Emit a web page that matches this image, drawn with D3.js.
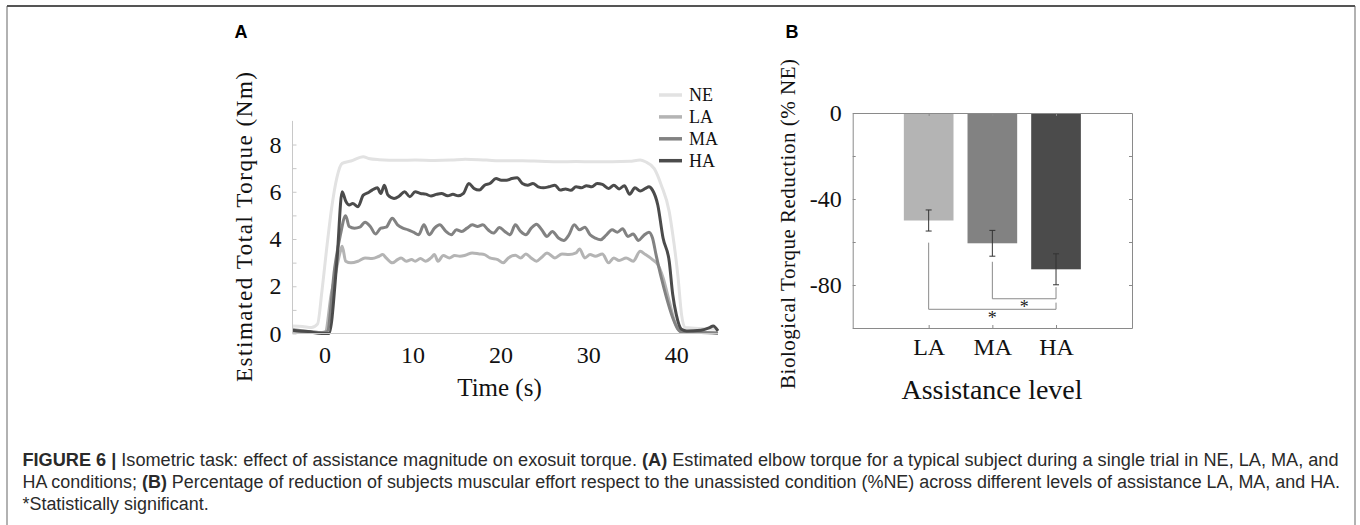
<!DOCTYPE html>
<html>
<head>
<meta charset="utf-8">
<script src="https://cdn.jsdelivr.net/npm/d3@7"></script>
<style>
  body { margin: 0; background: #fff; }
  svg { display: block; }
</style>
</head>
<body>
<svg id="fig" width="1360" height="525"></svg>
<script>
// ---- data ----
// panel A: estimated total torque (Nm) vs time (s), one [t, v] list per condition
const torqueNE = [[-3.65,0.32],[-2.5,0.3],[-1.5,0.25],[-0.8,0.4],[-0.3,1.8],[0.3,3.8],[0.8,5.3],[1.4,6.6],[2.0,7.2],[3.0,7.3],[4.4,7.48],[5.0,7.41],[6.2,7.36],[8.5,7.33],[10.3,7.34],[12.5,7.32],[14.4,7.34],[16.0,7.38],[18.4,7.34],[20.5,7.31],[22.5,7.31],[24.5,7.29],[26.6,7.27],[28.6,7.28],[30.6,7.27],[32.7,7.27],[34.7,7.29],[35.9,7.34],[36.5,7.27],[37.5,6.98],[38.3,6.28],[39.2,5.16],[39.6,4.2],[40.2,2.4],[40.6,0.81],[41.0,0.25],[44.75,0.18]];

const torqueLA = [[-3.65,0.18],[-1.9,0.08],[-0.3,0.04],[0.1,0.08],[0.75,1.65],[1.15,2.36],[1.8,3.48],[2.0,3.69],[2.4,3.06],[3.0,2.99],[3.8,3.06],[4.6,3.2],[5.4,3.17],[6.2,3.27],[6.6,3.34],[7.0,3.2],[7.7,2.99],[8.3,3.13],[8.7,3.2],[9.3,3.06],[9.9,3.13],[10.3,3.06],[10.9,3.17],[11.5,3.06],[12.1,3.2],[12.5,3.34],[12.9,3.06],[13.5,3.3],[14.2,3.2],[14.8,3.3],[15.4,3.27],[16.0,3.31],[16.8,3.41],[17.6,3.37],[18.2,3.34],[18.8,3.2],[19.7,3.13],[20.3,2.99],[20.9,3.2],[21.7,3.31],[22.3,3.2],[22.9,3.37],[23.5,3.2],[24.1,3.06],[24.7,3.23],[25.3,3.41],[26.2,3.2],[27.0,3.37],[27.8,3.34],[28.6,3.41],[29.0,3.58],[29.6,3.2],[30.2,3.34],[30.8,3.27],[31.6,3.37],[32.3,2.99],[32.9,3.2],[33.5,3.09],[34.3,3.2],[35.1,3.06],[35.9,3.48],[36.5,3.34],[37.3,3.13],[37.9,2.92],[38.5,2.36],[39.2,1.37],[39.8,0.53],[40.4,0.11],[41.2,0.04],[44.75,0.04]];

const torqueMA = [[-3.65,0.11],[-1.9,0.08],[-0.3,0.04],[0.3,0.08],[1.15,2.78],[1.8,4.18],[2.4,4.99],[2.8,4.53],[3.4,4.46],[4.0,4.5],[4.6,4.71],[5.2,4.53],[5.8,4.21],[6.4,4.46],[7.0,4.5],[7.7,4.88],[8.3,4.6],[8.9,4.46],[9.5,4.39],[10.1,4.29],[10.7,4.18],[11.3,4.6],[11.9,4.18],[12.5,4.46],[13.1,4.6],[13.8,4.32],[14.4,4.18],[15.0,4.39],[15.6,4.32],[16.2,4.46],[16.8,4.6],[17.4,4.53],[18.0,4.6],[18.6,4.39],[19.2,4.25],[19.9,4.49],[20.5,4.32],[21.1,4.18],[21.7,4.6],[22.3,4.32],[22.9,4.18],[23.5,4.46],[24.1,4.63],[24.7,4.39],[25.3,4.11],[25.9,4.32],[26.6,4.04],[27.2,3.94],[27.8,4.18],[28.4,4.6],[29.0,4.39],[29.6,4.5],[30.2,4.18],[30.8,4.04],[31.4,3.97],[32.0,4.15],[32.7,4.39],[33.3,4.29],[33.9,4.43],[34.5,4.11],[35.1,4.21],[35.7,3.94],[36.3,4.15],[36.9,4.29],[37.3,4.04],[37.7,3.34],[38.3,2.36],[38.9,1.51],[39.6,0.67],[40.2,0.18],[40.8,0.04],[42.8,0.04],[44.75,0.0]];

const torqueHA = [[-3.65,0.14],[-1.9,0.08],[-0.3,0.0],[0.5,0.0],[1.4,3.06],[2.0,6.0],[2.4,5.61],[2.8,5.44],[3.2,5.5],[3.8,5.37],[4.4,5.86],[5.0,5.97],[5.4,6.07],[6.0,6.17],[6.4,5.93],[6.8,6.28],[7.2,5.86],[7.9,5.72],[8.5,5.82],[9.1,6.0],[9.7,5.79],[10.3,6.0],[10.9,5.93],[11.5,5.9],[12.1,5.82],[12.7,5.89],[13.3,5.93],[14.0,5.83],[14.6,5.89],[15.2,5.83],[15.8,5.93],[16.4,6.35],[17.0,6.14],[17.6,6.07],[18.2,6.28],[18.8,6.35],[19.5,6.56],[20.1,6.49],[20.7,6.49],[21.3,6.56],[21.9,6.59],[22.5,6.35],[23.1,6.28],[23.7,6.35],[24.3,6.21],[24.9,6.17],[25.5,6.21],[26.2,6.28],[26.8,6.07],[27.4,6.12],[28.0,6.06],[28.6,6.21],[29.2,6.17],[29.8,6.26],[30.4,6.21],[31.0,6.35],[31.6,6.31],[32.3,6.14],[32.9,6.28],[33.5,6.12],[34.1,6.26],[34.7,5.89],[35.3,6.17],[35.9,6.03],[36.5,6.14],[36.9,6.21],[37.3,6.07],[37.9,5.44],[38.5,4.04],[39.2,3.06],[39.6,1.65],[40.0,0.81],[40.6,0.18],[41.2,0.11],[42.8,0.14],[43.8,0.25],[44.2,0.32],[44.75,0.11]];

const conditions = ["NE", "LA", "MA", "HA"];
const timeTicks = [0, 10, 20, 30, 40];
const torqueTicks = [0, 1, 2, 3, 4, 5, 6, 7, 8];

// panel B: biological torque reduction (% NE)
const levels = ["LA", "MA", "HA"];
const reductionMean = [-50, -60.6, -72.7];
const reductionErr = [4.9, 6.0, 7.2];
const reductionTicks = [0, -20, -40, -60, -80, -100];
// significance brackets: [from level, to level, y of bar, y where left leg starts, y where right leg starts, star y]
const sigBrackets = [
  [1, 3, -91.3, -60.3, -88.2, -94.4],
  [2, 3, -86.4, -69.2, -81.0, -89.3]
];

const colors = { NE: "#e2e2e2", LA: "#b4b4b4", MA: "#828282", HA: "#4b4b4b" };
const serif = "'Liberation Serif', 'Times New Roman', serif";
const sans = "'Liberation Sans', Arial, Helvetica, sans-serif";

const svg = d3.select("#fig");

// frame
svg.append("line").attr("x1", 7).attr("x2", 7).attr("y1", 6).attr("y2", 525)
  .attr("stroke", "#999").attr("stroke-width", 1.5);
svg.append("line").attr("x1", 1355).attr("x2", 1355).attr("y1", 6).attr("y2", 525)
  .attr("stroke", "#999").attr("stroke-width", 1.5);
svg.append("line").attr("x1", 7).attr("x2", 1355).attr("y1", 6).attr("y2", 6)
  .attr("stroke", "#555").attr("stroke-width", 2);

// panel letters
svg.append("text").attr("x", 241).attr("y", 38).attr("text-anchor", "middle")
  .style("font-family", sans).style("font-weight", "bold").style("font-size", "18px").text("A");
svg.append("text").attr("x", 792).attr("y", 38).attr("text-anchor", "middle")
  .style("font-family", sans).style("font-weight", "bold").style("font-size", "18px").text("B");

// ================= panel A =================
const xA = d3.scaleLinear().domain([-3.65, 44.75]).range([292.5, 718]);
const yA = d3.scaleLinear().domain([0, 9]).range([333.5, 120.9]);

const gA = svg.append("g");

const line = d3.line().x(d => xA(d[0])).y(d => yA(d[1])).curve(d3.curveMonotoneX);
const seriesA = { NE: torqueNE, LA: torqueLA, MA: torqueMA, HA: torqueHA };
conditions.forEach(c => {
  gA.append("path").datum(seriesA[c])
    .attr("fill", "none").attr("stroke", colors[c]).attr("stroke-width", 3)
    .attr("stroke-linejoin", "round").attr("d", line);
});

const axA = gA.append("g").attr("transform", `translate(${xA.range()[0]},0)`)
  .call(d3.axisLeft(yA).tickValues(torqueTicks).tickSize(-4).tickSizeOuter(0).tickPadding(11)
    .tickFormat(d => d % 2 === 0 ? d : ""));
const axAx = gA.append("g").attr("transform", `translate(0,${yA(0)})`)
  .call(d3.axisBottom(xA).tickValues(timeTicks).tickSize(0).tickPadding(12));
[axA, axAx].forEach(a => {
  a.select(".domain").attr("stroke", "#c8c8c8");
  a.selectAll(".tick line").attr("stroke", "#c8c8c8");
  a.selectAll("text").style("font-family", serif).style("font-size", "24px").attr("fill", "#111");
});
// keep the top of the left axis line at 9
axA.select(".domain").attr("d", `M0,${yA(0)}V${yA(9)}`);
axAx.select(".domain").attr("d", `M${xA.range()[0]},0H${xA.range()[1]}`);

gA.append("text").attr("transform", `translate(244,${(72 + 382) / 2}) rotate(-90)`)
  .attr("text-anchor", "middle").attr("dy", "0.35em")
  .style("font-family", serif).style("font-size", "23px").attr("fill", "#111")
  .attr("textLength", 310).text("Estimated Total Torque (Nm)");
gA.append("text").attr("x", 499.5).attr("y", 396).attr("text-anchor", "middle")
  .style("font-family", serif).style("font-size", "25px").attr("fill", "#111")
  .text("Time (s)");

// legend
const legA = gA.append("g");
conditions.forEach((c, i) => {
  const y = 95 + i * 21.9;
  legA.append("line").attr("x1", 659).attr("x2", 682).attr("y1", y).attr("y2", y)
    .attr("stroke", colors[c]).attr("stroke-width", 3.5);
  legA.append("text").attr("x", 689).attr("y", y).attr("dy", "0.35em")
    .style("font-family", serif).style("font-size", "18px").attr("fill", "#111").text(c);
});

// ================= panel B =================
const xB = d3.scaleLinear().domain([-0.193, 4.193]).range([852.7, 1132]);
const yB = d3.scaleLinear().domain([-100, 0]).range([328, 113]);
const barW = xB(0.78) - xB(0);
const gB = svg.append("g");

gB.selectAll("rect.bar").data(levels).enter().append("rect")
  .attr("class", "bar")
  .attr("x", (d, i) => xB(i + 1) - barW / 2)
  .attr("y", yB(0))
  .attr("width", barW)
  .attr("height", (d, i) => yB(reductionMean[i]) - yB(0))
  .attr("fill", d => colors[d]);

// error bars
levels.forEach((d, i) => {
  const cx = xB(i + 1);
  const lo = yB(reductionMean[i] - reductionErr[i]);
  const hi = yB(reductionMean[i] + reductionErr[i]);
  const eg = gB.append("g").attr("stroke", "#333").attr("stroke-width", 1);
  eg.append("line").attr("x1", cx).attr("x2", cx).attr("y1", lo).attr("y2", hi);
  eg.append("line").attr("x1", cx - 3).attr("x2", cx + 3).attr("y1", lo).attr("y2", lo);
  eg.append("line").attr("x1", cx - 3).attr("x2", cx + 3).attr("y1", hi).attr("y2", hi);
});

// significance brackets
sigBrackets.forEach(b => {
  const x1 = xB(b[0]), x2 = xB(b[1]);
  gB.append("path")
    .attr("d", `M${x1},${yB(b[3])}V${yB(b[2])}H${x2}V${yB(b[4])}`)
    .attr("fill", "none").attr("stroke", "#8a8a8a").attr("stroke-width", 1);
  gB.append("text").attr("x", (x1 + x2) / 2).attr("y", yB(b[5]) + 8)
    .attr("text-anchor", "middle")
    .style("font-family", serif).style("font-size", "18px").attr("fill", "#222").text("*");
});

const axisCol = "#8a8a8a";
const axBl = gB.append("g").attr("transform", `translate(${xB.range()[0]},0)`)
  .call(d3.axisLeft(yB).tickValues(reductionTicks).tickSize(-3).tickSizeOuter(0).tickPadding(11)
    .tickFormat(d => (d % 40 === 0 ? (d < 0 ? "-" + Math.abs(d) : d) : "")));
const axBr = gB.append("g").attr("transform", `translate(${xB.range()[1]},0)`)
  .call(d3.axisRight(yB).tickValues(reductionTicks).tickSize(-3).tickSizeOuter(0).tickFormat(""));
const axBb = gB.append("g").attr("transform", `translate(0,${yB(-100)})`)
  .call(d3.axisBottom(xB).tickValues([1, 2, 3]).tickSize(-3).tickSizeOuter(0).tickPadding(10)
    .tickFormat(d => levels[d - 1]));
const axBt = gB.append("g").attr("transform", `translate(0,${yB(0)})`)
  .call(d3.axisTop(xB).tickValues([1, 2, 3]).tickSize(-3).tickSizeOuter(0).tickFormat(""));
[axBl, axBr, axBb, axBt].forEach(a => {
  a.select(".domain").attr("stroke", axisCol);
  a.selectAll(".tick line").attr("stroke", axisCol);
  a.selectAll("text").style("font-family", serif).style("font-size", "24px").attr("fill", "#111");
});

gB.append("text").attr("transform", `translate(788,224) rotate(-90)`)
  .attr("text-anchor", "middle").attr("dy", "0.35em")
  .style("font-family", serif).style("font-size", "21px").attr("fill", "#111")
  .attr("textLength", 330).text("Biological Torque Reduction (% NE)");
gB.append("text").attr("x", 992).attr("y", 399).attr("text-anchor", "middle")
  .style("font-family", serif).style("font-size", "28px").attr("fill", "#111")
  .text("Assistance level");

// ================= caption =================
// slightly condensed sans, squeezed to the measured line widths
const cap = svg.append("g").style("font-family", sans).style("font-size", "18px").attr("fill", "#2a2a2a");
const l1 = cap.append("text").attr("x", 22.5).attr("y", 465.5)
  .attr("textLength", 1316).attr("lengthAdjust", "spacingAndGlyphs");
l1.append("tspan").style("font-weight", "bold").text("FIGURE 6 |");
l1.append("tspan").text(" Isometric task: effect of assistance magnitude on exosuit torque. ");
l1.append("tspan").style("font-weight", "bold").text("(A)");
l1.append("tspan").text(" Estimated elbow torque for a typical subject during a single trial in NE, LA, MA, and");
const l2 = cap.append("text").attr("x", 22.5).attr("y", 487.5);
l2.append("tspan").text("HA conditions; ");
l2.append("tspan").style("font-weight", "bold").text("(B)");
l2.append("tspan").text(" Percentage of reduction of subjects muscular effort respect to the unassisted condition (%NE) across different levels of assistance LA, MA, and HA.");
const squeeze = 1317.5 / l2.node().getComputedTextLength();
l2.attr("textLength", 1317.5).attr("lengthAdjust", "spacingAndGlyphs");
const l3 = cap.append("text").attr("x", 22.5).attr("y", 509.5).text("*Statistically significant.");
l3.attr("textLength", l3.node().getComputedTextLength() * squeeze).attr("lengthAdjust", "spacingAndGlyphs");
</script>
</body>
</html>
